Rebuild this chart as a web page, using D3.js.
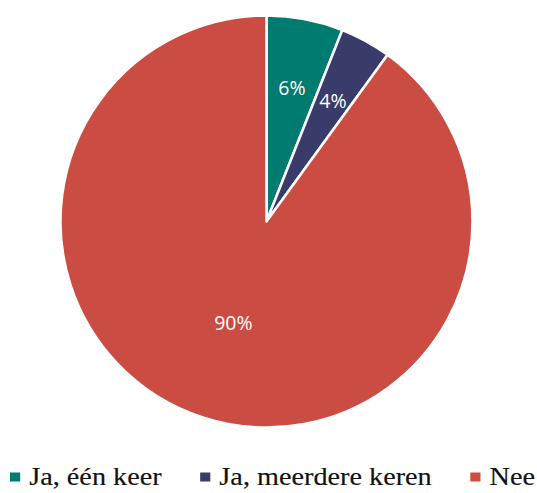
<!DOCTYPE html>
<html><head><meta charset="utf-8">
<script src="https://cdn.jsdelivr.net/npm/d3@7"></script>
<style>body{margin:0;background:#fff}svg{display:block}</style>
</head><body>
<svg id="c" width="537" height="493"></svg>
<script>
const categories = ["Ja, één keer", "Ja, meerdere keren", "Nee"];
const values = [6, 4, 90];
const labels = ["6%", "4%", "90%"];
const colors = ["#007B70", "#393C6A", "#CA4C43"];
const labelRadiusFrac = [0.66, 0.67, 0.52];

const svg = d3.select("#c");
const cx = 266.5, cy = 221.5, R = 206;
const g = svg.append("g").attr("transform", `translate(${cx},${cy})`);
const pie = d3.pie().sort(null).value(d => d)(values);
const arc = d3.arc().innerRadius(0).outerRadius(R);
g.selectAll("path").data(pie).join("path")
  .attr("d", arc).attr("fill", (d, i) => colors[i])
  .attr("stroke", "#fff").attr("stroke-width", 2.5).attr("stroke-linejoin", "round");
g.selectAll("text").data(pie).join("text")
  .attr("transform", (d, i) => {
    const r = R * labelRadiusFrac[i];
    const a = (d.startAngle + d.endAngle) / 2;
    return `translate(${Math.sin(a) * r},${-Math.cos(a) * r})`;
  })
  .attr("text-anchor", "middle").attr("dy", "0.36em")
  .attr("fill", "#fff").attr("font-family", "'Open Sans', 'Noto Sans', sans-serif")
  .attr("font-size", 19.5).text((d, i) => labels[i]);

// legend
const legend = svg.append("g");
const fs = 25;
let x = 10;
const baseline = 485.5;
categories.forEach((c, i) => {
  legend.append("rect").attr("x", x).attr("y", 472.5).attr("width", 9).attr("height", 9).attr("fill", colors[i]);
  const t = legend.append("text").attr("x", x + 17).attr("y", baseline)
    .attr("font-family", "'Liberation Serif', 'DejaVu Serif', serif").attr("font-size", fs)
    .attr("stroke", "#111").attr("stroke-width", 0.15)
    .attr("fill", "#111").text(c);
  x = x + 17 + t.node().getComputedTextLength() + 34;
});
const bb = legend.node().getBBox();
const target = 535 - 10;
legend.attr("transform", `translate(${10 - 10 * target / bb.width},0) scale(${target / bb.width},1)`);
</script>
</body></html>
